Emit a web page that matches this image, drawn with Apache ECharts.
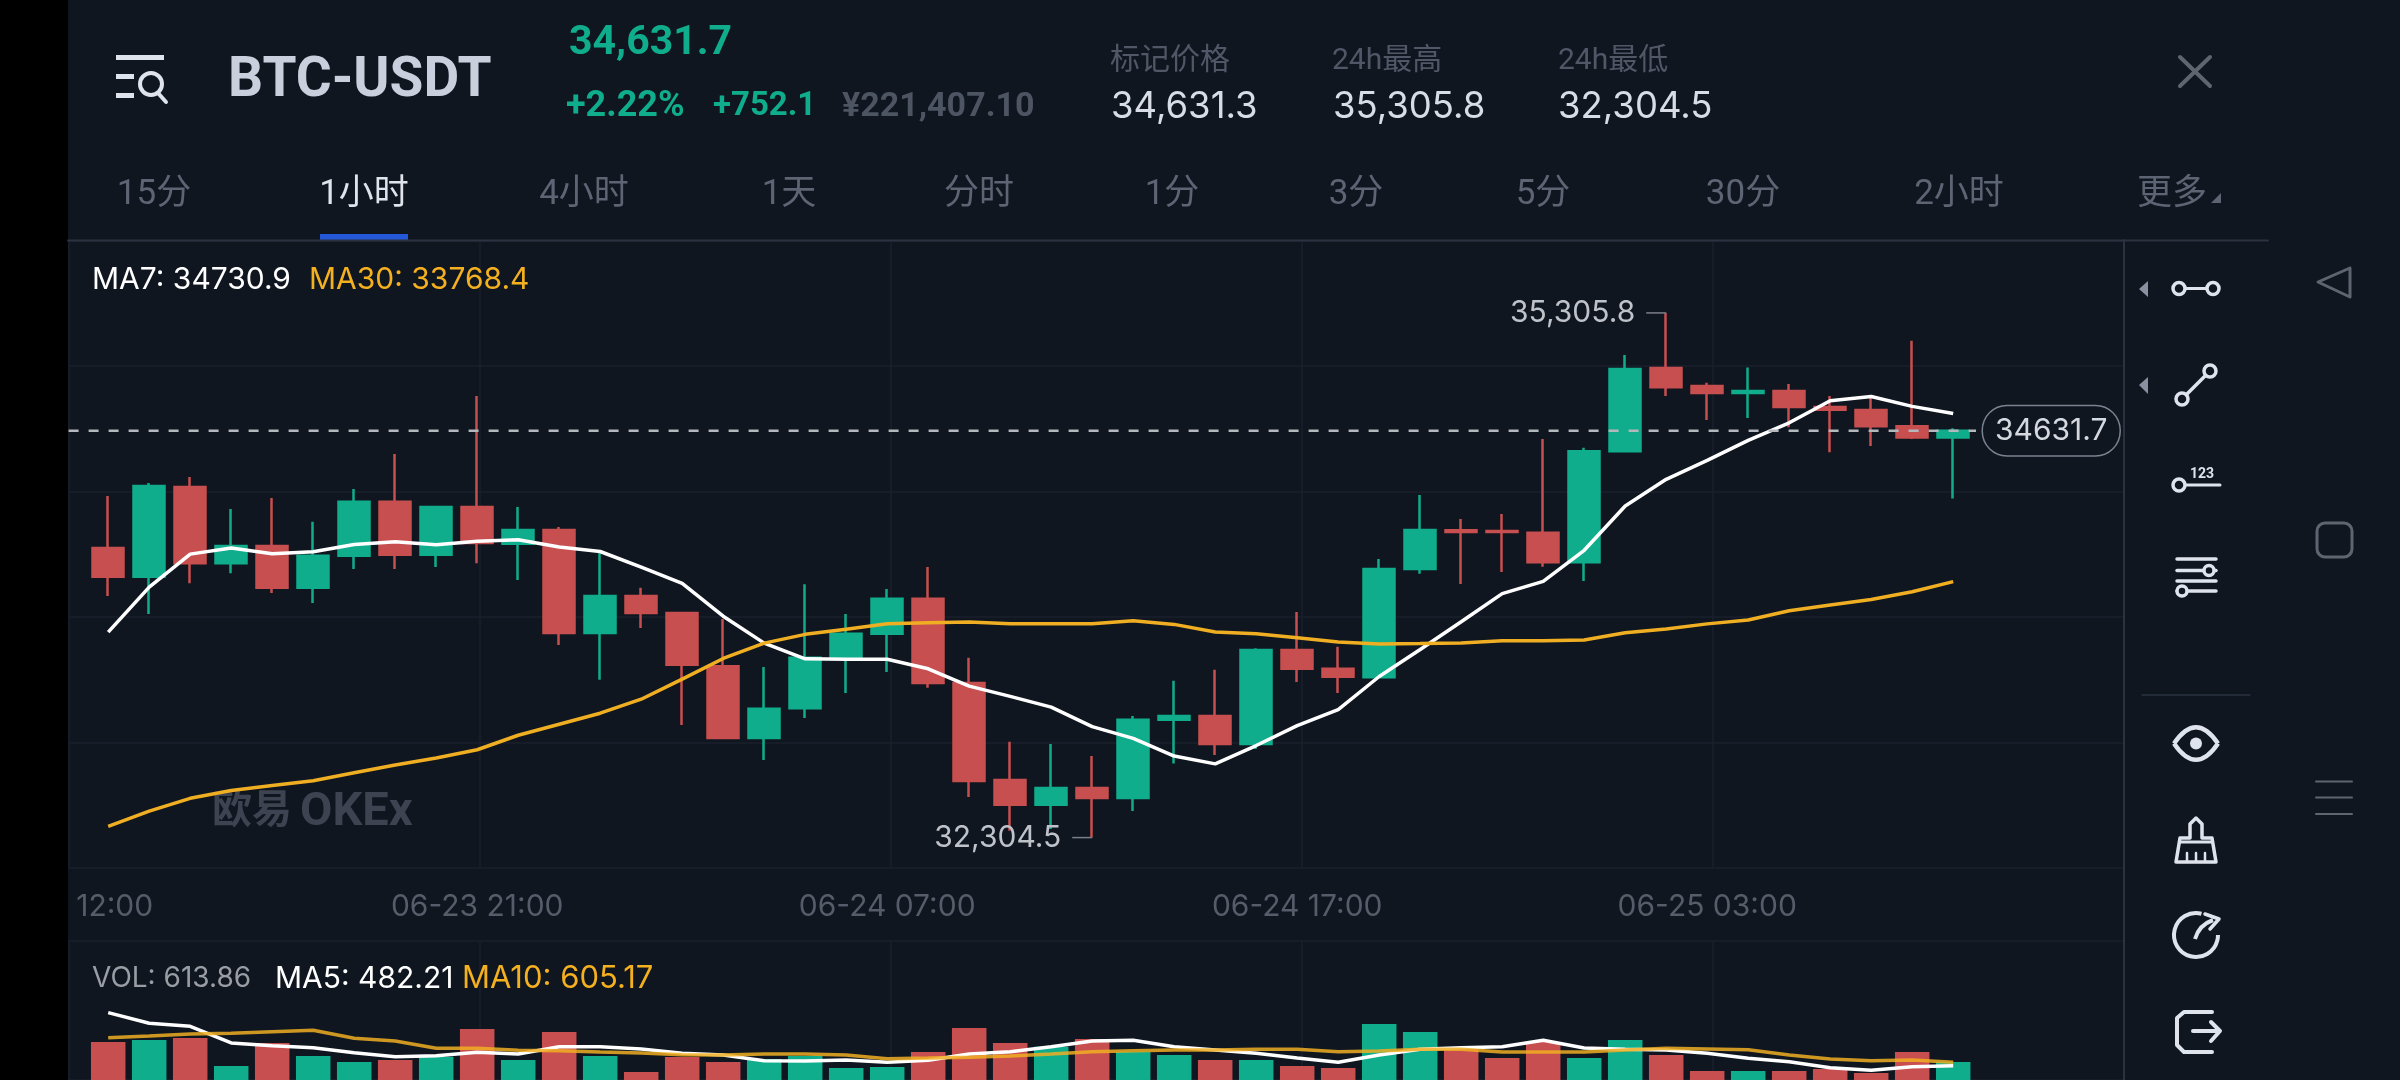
<!DOCTYPE html>
<html>
<head>
<meta charset="utf-8">
<title>BTC-USDT</title>
<script src="https://cdn.jsdelivr.net/npm/echarts@6/dist/echarts.min.js"></script>
<style>
html,body{margin:0;padding:0;background:#0f1620;}
#chart{width:2400px;height:1080px;}
</style>
</head>
<body>
<div id="chart"></div>
<script>
// candle hours, 06-23 12:00 onward
var times = ['12:00','06-23 13:00','06-23 14:00','06-23 15:00','06-23 16:00','06-23 17:00','06-23 18:00','06-23 19:00','06-23 20:00','06-23 21:00',
  '06-23 22:00','06-23 23:00','06-24 00:00','06-24 01:00','06-24 02:00','06-24 03:00','06-24 04:00','06-24 05:00','06-24 06:00','06-24 07:00',
  '06-24 08:00','06-24 09:00','06-24 10:00','06-24 11:00','06-24 12:00','06-24 13:00','06-24 14:00','06-24 15:00','06-24 16:00','06-24 17:00',
  '06-24 18:00','06-24 19:00','06-24 20:00','06-24 21:00','06-24 22:00','06-24 23:00','06-25 00:00','06-25 01:00','06-25 02:00','06-25 03:00',
  '06-25 04:00','06-25 05:00','06-25 06:00','06-25 07:00','06-25 08:00','06-25 09:00'];
var labelled = [0, 9, 19, 29, 39];

var opens = [33961,33796,34310,33874,33973,33733,33916,34225,33922,34196,33985,34064,33475,33687,33589,33285,32874,33045,33333,33471,
  33670,33189,32634,32492,32588,32531,32978,33000,32840,33378,33270,33222,33841,34062,34058,34048,33880,34515,34991,34887,
  34848,34859,34767,34750,34658,34593];
var closes = [33796,34316,33874,33973,33733,33916,34225,33922,34196,33989,34064,33475,33687,33589,33293,32874,33041,33333,33471,33670,
  33189,32628,32492,32588,32531,32978,33000,32840,33378,33270,33224,33841,34064,34052,34052,33880,34515,34985,34881,34848,
  34859,34767,34752,34658,34593,34631.7];
var lows = [33687,33583,33760,33817,33703,33646,33841,33841,33853,33874,33778,33406,33207,33504,32949,32868,32748,32988,33132,33252,
  33161,32537,32344,32354,32304.5,32456,32728,32777,32811,33195,33132,33222,33813,33755,33823,33854,33772,34515,34830,34693,
  34705,34652,34509,34544,34585,34244];
var highs = [34258,34333,34367,34184,34247,34111,34298,34499,34196,34830,34196,34081,33939,33733,33589,33555,33280,33754,33583,33727,
  33853,33333,32852,32840,32771,33000,33201,33264,33388,33595,33396,33898,34264,34127,34156,34585,34534,35065,35305.8,34906,
  34993,34899,34830,34830,35147,34646];
var ma7 = [33480,33737,33926,33961,33928,33939,33981,33997,33979,33999,34008,33967,33941,33851,33758,33571,33417,33327,33325,33325,
  33270,33171,33112,33051,32939,32872,32771,32726,32831,32945,33037,33226,33380,33539,33700,33770,33948,34201,34354,34462,
  34577,34677,34803,34828,34771,34730.9];
var ma30 = [32368,32456,32529,32574,32602,32630,32675,32720,32760,32807,32890,32953,33016,33096,33211,33329,33417,33467,33496,33528,
  33534,33538,33528,33528,33528,33545,33524,33481,33471,33447,33423,33412,33414,33418,33431,33431,33435,33476,33498,33527,
  33549,33602,33635,33666,33711,33768.4];
var volumes = [1296,1364,1433,478,1262,819,614,682,796,1740,682,1637,819,273,785,614,716,819,409,443,
  955,1774,1262,1137,1399,966,853,682,682,478,409,1910,1637,1046,750,1296,750,1364,853,307,
  307,307,375,239,955,613.86];
var volMa5 = [2297,1933,1831,1262,1171,1103,932,796,830,944,887,1137,1137,1057,910,853,659,648,682,603,
  671,887,966,1137,1330,1353,1137,1023,910,750,603,853,1046,1103,1137,1353,1092,1046,1023,910,
  739,625,421,330,455,482.21];
var volMa10 = [1444,1501,1569,1592,1649,1694,1421,1330,1080,1080,1012,1001,955,921,864,853,887,887,853,728,
  750,773,819,887,966,1001,1023,1023,1046,1046,966,989,1046,1046,955,955,955,1023,1080,1057,
  1035,853,716,659,682,605.17];
var lastPrice = 34631.7;
var tabs = [['15分',154],['1小时',364],['4小时',584],['1天',789],['分时',979],['1分',1172],['3分',1356],['5分',1543],['30分',1743],['2小时',1959],['更多',2172]];

var GREEN = '#10ad8c', RED = '#c84f4f', BG = '#0f1620', GRIDLINE = '#1a212c', DIVIDER = '#2c3340', ICON = '#dfe3ec', NAV = '#5f6470';
var NUM = 'Inter, Roboto, sans-serif';
var CJK = 'Roboto, "Noto Sans CJK SC", sans-serif';
var BOLD = 'Roboto, "Noto Sans CJK SC", sans-serif';

function txt(x, y, s, size, color, opt){
  opt = opt || {};
  return {type:'text', silent:true, z:opt.z||5, style:{x:x, y:y, text:s, fontSize:size, fontFamily:opt.family||NUM, fontWeight:opt.weight||'normal',
    fill:color, textAlign:opt.align||'left', textVerticalAlign:'middle'}};
}
function ln(x1, y1, x2, y2, color, w){
  return {type:'line', silent:true, z:5, shape:{x1:x1,y1:y1,x2:x2,y2:y2}, style:{stroke:color, lineWidth:w||3, lineCap:'round'}};
}
function ring(cx, cy, r, w){
  return {type:'circle', silent:true, z:6, shape:{cx:cx,cy:cy,r:r}, style:{stroke:ICON, lineWidth:w||3.5, fill:BG}};
}
function poly(points, color, w){
  return {type:'polyline', silent:true, z:5, shape:{points:points}, style:{stroke:color, lineWidth:w||3, fill:null, lineJoin:'round', lineCap:'round'}};
}
function tri(points, color){
  return {type:'polygon', silent:true, z:5, shape:{points:points}, style:{fill:color}};
}

function chrome(){
  var g = [];
  g.push({type:'rect', silent:true, z:4, shape:{x:0,y:0,width:68,height:1080}, style:{fill:'#000'}});
  // menu + search icon
  g.push({type:'rect', silent:true, z:5, shape:{x:116,y:55,width:48,height:5}, style:{fill:ICON}});
  g.push({type:'rect', silent:true, z:5, shape:{x:116,y:74,width:18,height:5}, style:{fill:ICON}});
  g.push({type:'rect', silent:true, z:5, shape:{x:116,y:93,width:18,height:5}, style:{fill:ICON}});
  g.push({type:'circle', silent:true, z:5, shape:{cx:151,cy:84,r:11}, style:{stroke:ICON, lineWidth:4, fill:null}});
  g.push(ln(158,93,166,102,ICON,4));
  // header
  g.push(txt(228,82,'BTC-USDT',55,'#c9cfdc',{family:BOLD,weight:'bold'}));
  g.push(txt(569,44,'34,631.7',41,GREEN,{family:BOLD,weight:'bold'}));
  g.push(txt(566,107,'+2.22%',36,GREEN,{family:BOLD,weight:'bold'}));
  g.push(txt(713,107,'+752.1',33,GREEN,{family:BOLD,weight:'bold'}));
  g.push(txt(842,107,'¥221,407.10',34,'#4d5462',{family:BOLD,weight:'bold'}));
  g.push(txt(1110,61,'标记价格',30,'#505766',{family:CJK}));
  g.push(txt(1111,107,'34,631.3',36.5,'#d8dce4'));
  g.push(txt(1332,61,'24h最高',30,'#505766',{family:CJK}));
  g.push(txt(1333,107,'35,305.8',36.5,'#d8dce4'));
  g.push(txt(1558,61,'24h最低',30,'#505766',{family:CJK}));
  g.push(txt(1558,107,'32,304.5',36.5,'#d8dce4'));
  g.push(ln(2180,57,2210,86,NAV,4));
  g.push(ln(2210,57,2180,86,NAV,4));
  // tabs
  tabs.forEach(function(t, i){
    g.push(txt(t[1],195,t[0],35,i==1?'#dfe3ea':'#5d6473',{family:CJK,align:'center'}));
  });
  g.push(tri([[2211,203],[2221,203],[2221,193]],'#5d6473'));
  g.push({type:'rect', silent:true, z:5, shape:{x:320,y:234,width:88,height:6}, style:{fill:'#2458d8'}});
  g.push(ln(68,240.5,2268,240.5,DIVIDER,2));
  g.push(ln(2124,240,2124,1080,DIVIDER,2));
  // legends
  g.push(txt(92,280,'MA7: '+ma7[45],30,'#ffffff'));
  g.push(txt(309,280,'MA30: '+ma30[45],30,'#f5b01f'));
  g.push(txt(92,979,'VOL: '+volumes[45],28,'#9a9da3'));
  g.push(txt(275,979,'MA5: '+volMa5[45],30,'#ffffff'));
  g.push(txt(462,979,'MA10: '+volMa10[45],31,'#f5b01f'));
  g.push(txt(212,813,'欧易',40,'#3d4350',{family:CJK,weight:'bold',z:1}));
  g.push(txt(300,813,'OKEx',47,'#3d4350',{family:BOLD,weight:'bold',z:1}));
  // side tools
  g.push(tri([[2139,289],[2148,281],[2148,297]],'#8a90a0'));
  g.push(tri([[2139,385],[2148,377],[2148,394]],'#8a90a0'));
  g.push(ln(2179,288.5,2213,288.5,ICON,3), ring(2179,288.5,6), ring(2213,288.5,6));
  g.push(ln(2182,399,2210,371,ICON,3.5), ring(2182,399,6), ring(2210,371,6));
  g.push(ln(2179,485,2220,485,ICON,3), ring(2179,485,6));
  g.push(txt(2202,474,'123',14,ICON,{align:'center',weight:'bold',family:'Roboto, sans-serif'}));
  g.push(ln(2177,559,2216,559,ICON,3.5), ln(2177,570.5,2216,570.5,ICON,3.5), ln(2177,581,2216,581,ICON,3.5), ln(2177,591,2216,591,ICON,3.5));
  g.push(ring(2209,570.5,5), ring(2182,591,5));
  g.push(ln(2142,695,2250,695,DIVIDER,1.5));
  // eye
  g.push({type:'bezierCurve', silent:true, z:5, shape:{x1:2174,y1:743.5,x2:2218,y2:743.5,cpx1:2196,cpy1:711}, style:{stroke:ICON,lineWidth:4.5,fill:null}});
  g.push({type:'bezierCurve', silent:true, z:5, shape:{x1:2174,y1:743.5,x2:2218,y2:743.5,cpx1:2196,cpy1:776}, style:{stroke:ICON,lineWidth:4.5,fill:null}});
  g.push({type:'circle', silent:true, z:5, shape:{cx:2196,cy:743.5,r:6}, style:{fill:ICON}});
  // brush
  g.push(poly([[2190,838],[2190,824],[2196,818],[2202,824],[2202,838],[2212,838],[2216,862],[2176,862],[2180,838],[2190,838]],ICON,3.5));
  g.push(ln(2180,842,2212,842,ICON,3), ln(2187,853,2187,861,ICON,2.5), ln(2196,853,2196,861,ICON,2.5), ln(2205,853,2205,861,ICON,2.5));
  // reset
  g.push({type:'arc', silent:true, z:5, shape:{cx:2196,cy:935,r:22,startAngle:-Math.PI*0.42,endAngle:0,clockwise:false}, style:{stroke:ICON,lineWidth:4,fill:null}});
  g.push({type:'bezierCurve', silent:true, z:5, shape:{x1:2195,y1:939,x2:2213,y2:920,cpx1:2199,cpy1:925}, style:{stroke:ICON,lineWidth:4,fill:null}});
  g.push(poly([[2205,914],[2219,919],[2210,929]],ICON,3.5));
  // exit
  g.push(poly([[2212,1012],[2184,1012],[2177,1018],[2177,1045],[2184,1052],[2212,1052]],ICON,4));
  g.push(ln(2193,1031,2218,1031,ICON,4));
  g.push(poly([[2211,1022],[2220,1031],[2211,1041]],ICON,4));
  // nav bar
  g.push(poly([[2350,268],[2318,282],[2350,297],[2350,268]],NAV,3));
  g.push({type:'rect', silent:true, z:5, shape:{x:2317,y:523,width:35,height:34,r:8}, style:{stroke:NAV,lineWidth:3,fill:null}});
  g.push(ln(2316,781.5,2352,781.5,NAV,2), ln(2316,797.5,2352,797.5,NAV,2), ln(2316,814,2352,814,NAV,2));
  return g;
}

window.onload = function(){
  var myChart = echarts.init(document.getElementById('chart'));
  var candles = times.map(function(t, i){ return [opens[i], closes[i], lows[i], highs[i]]; });
  var volBars = volumes.map(function(v, i){
    return {value:v, itemStyle:{color: closes[i] > opens[i] ? GREEN : RED}};
  });
  function extreme(i, v){
    return {coord:[times[i], v], symbol:'rect', symbolSize:[20,1.5], symbolOffset:[-10,0], itemStyle:{color:'#7a7f88'},
      label:{show:true, position:'left', distance:11, color:'#bfc2c8', fontSize:30, fontFamily:NUM,
        formatter: v.toLocaleString('en-US',{minimumFractionDigits:1})}};
  }
  var frameX = {type:'value', min:0, max:5, interval:1, axisLine:{show:false}, axisTick:{show:false}, axisLabel:{show:false},
    splitLine:{show:true, lineStyle:{color:GRIDLINE, width:1.5}}};
  function frameY(grid, n){
    return {type:'value', gridIndex:grid, min:0, max:n, interval:1, axisLine:{show:false}, axisTick:{show:false}, axisLabel:{show:false},
      splitLine:{show:true, lineStyle:{color:GRIDLINE, width:1.5}}};
  }
  var option = {
    backgroundColor: BG,
    animation: false,
    grid: [
      {left:87.7, top:240.5, width:1886, height:627.5},
      {left:87.7, top:941, width:1886, height:139},
      {left:68.6, top:240.5, width:2055.4, height:627.5},
      {left:68.6, top:941, width:2055.4, height:139}
    ],
    xAxis: [
      {type:'category', gridIndex:0, data:times, boundaryGap:true, axisLine:{show:false}, axisTick:{show:false}, splitLine:{show:false},
        axisLabel:{interval:function(i){ return labelled.indexOf(i) >= 0; }, margin:24, color:'#565c69', fontSize:30, fontFamily:NUM,
          formatter:function(v, i){ return i == 0 ? '{first|' + v + '}' : v; },
          rich:{first:{padding:[0,0,0,13], color:'#565c69', fontSize:30, fontFamily:NUM}}}},
      {type:'category', gridIndex:1, data:times, boundaryGap:true, axisLine:{show:false}, axisTick:{show:false}, axisLabel:{show:false}, splitLine:{show:false}},
      echarts.util.merge({gridIndex:2}, frameX),
      echarts.util.merge({gridIndex:3}, frameX)
    ],
    yAxis: [
      {type:'value', gridIndex:0, min:32130.5, max:35720, axisLine:{show:false}, axisTick:{show:false}, axisLabel:{show:false}, splitLine:{show:false}},
      {type:'value', gridIndex:1, min:0, max:4740, axisLine:{show:false}, axisTick:{show:false}, axisLabel:{show:false}, splitLine:{show:false}},
      frameY(2, 5),
      frameY(3, 1),
      {type:'value', gridIndex:2, min:32130.5, max:35720, axisLine:{show:false}, axisTick:{show:false}, axisLabel:{show:false}, splitLine:{show:false}}
    ],
    series: [
      {name:'K', type:'candlestick', xAxisIndex:0, yAxisIndex:0, data:candles, barWidth:32, z:3,
        itemStyle:{color:GREEN, color0:RED, borderColor:GREEN, borderColor0:RED, borderWidth:2.5},
        markPoint:{silent:true, animation:false, data:[extreme(38, highs[38]), extreme(24, lows[24])]}},
      {name:'MA7', type:'line', xAxisIndex:0, yAxisIndex:0, data:ma7, symbol:'none', z:4, lineStyle:{color:'#ffffff', width:3.5}},
      {name:'MA30', type:'line', xAxisIndex:0, yAxisIndex:0, data:ma30, symbol:'none', z:4, lineStyle:{color:'#f0ae22', width:3.5}},
      {name:'last', type:'line', xAxisIndex:2, yAxisIndex:4, data:[[0,lastPrice],[4.64,lastPrice]], symbol:'none', z:5,
        lineStyle:{color:'#b4b7bc', width:2.5, type:[10,10]},
        endLabel:{show:true, distance:7, formatter:String(lastPrice), color:'#d5d8de', fontSize:30, fontFamily:NUM, backgroundColor:BG,
          borderColor:'#7b8290', borderWidth:1.5, borderRadius:24, padding:[10,12,9,12]}},
      {name:'VOL', type:'bar', xAxisIndex:1, yAxisIndex:1, data:volBars, barWidth:34.5, z:3},
      {name:'MA5', type:'line', xAxisIndex:1, yAxisIndex:1, data:volMa5, symbol:'none', z:4, lineStyle:{color:'#ffffff', width:3.5}},
      {name:'MA10', type:'line', xAxisIndex:1, yAxisIndex:1, data:volMa10, symbol:'none', z:5, lineStyle:{color:'#f0ae22', width:3.5, opacity:0.85}}
    ],
    graphic: {elements: chrome()}
  };
  myChart.setOption(option);
};
</script>
</body>
</html>
